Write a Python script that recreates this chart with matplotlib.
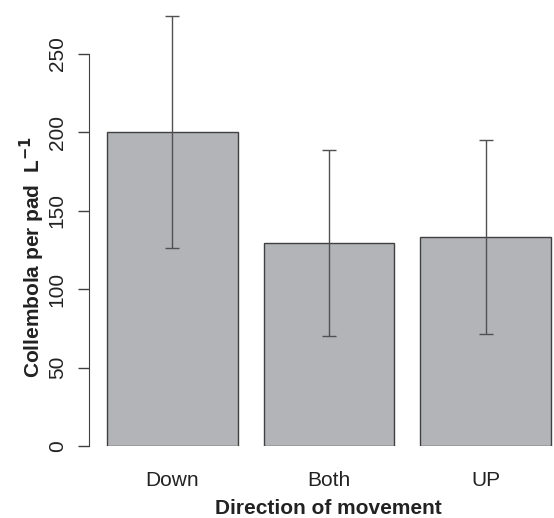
import matplotlib
matplotlib.use("Agg")
from matplotlib import pyplot as plt

# Values
directions = ["Down", "Both", "UP"]
means = [200.3, 129.5, 133.3]
errors = [74.0, 59.3, 62.0]
yticks = [0, 50, 100, 150, 200, 250]

plt.rcParams['font.family'] = ['Liberation Sans', 'DejaVu Sans']

fig = plt.figure(figsize=(5.54, 5.18), dpi=100)
ax = fig.add_axes([89 / 554, 72 / 518, 465 / 554, 446 / 518])

# R-style barplot positions: width 1, space 0.2
xpos = [0.7 + 1.2 * i for i in range(len(directions))]
ax.bar(xpos, means, width=1.0, color='#b3b4b8', edgecolor='#404040', linewidth=1.0)
ax.errorbar(xpos, means, yerr=errors, fmt='none', ecolor='#505050',
            elinewidth=1.0, capsize=5, capthick=1.0)

ax.set_xlim(0.062, 3.623)
ax.set_ylim(0, 284.4)

for side in ['top', 'right', 'bottom']:
    ax.spines[side].set_visible(False)
ax.spines['left'].set_bounds(0, 250)
ax.spines['left'].set_color('#404040')

ax.set_yticks(yticks)
ax.set_yticklabels([str(t) for t in yticks], rotation=90, va='center', fontsize=15, color='#222222')
ax.tick_params(axis='y', length=8, width=1.0, color='#404040', pad=8)

ax.set_xticks(xpos)
ax.set_xticklabels(directions, fontsize=15, color='#222222')
ax.tick_params(axis='x', length=0, pad=18)

fig.text(328 / 554, 1 - 508 / 518, "Direction of movement", ha='center', va='center',
         fontsize=15, fontweight='bold', color='#222222')
fig.text(32 / 554, 1 - 257 / 518, r"Collembola per pad  L$^{\mathbf{-1}}$", ha='center', va='center',
         rotation=90, fontsize=15, fontweight='bold', color='#222222')

plt.savefig("out.png", dpi=100)
